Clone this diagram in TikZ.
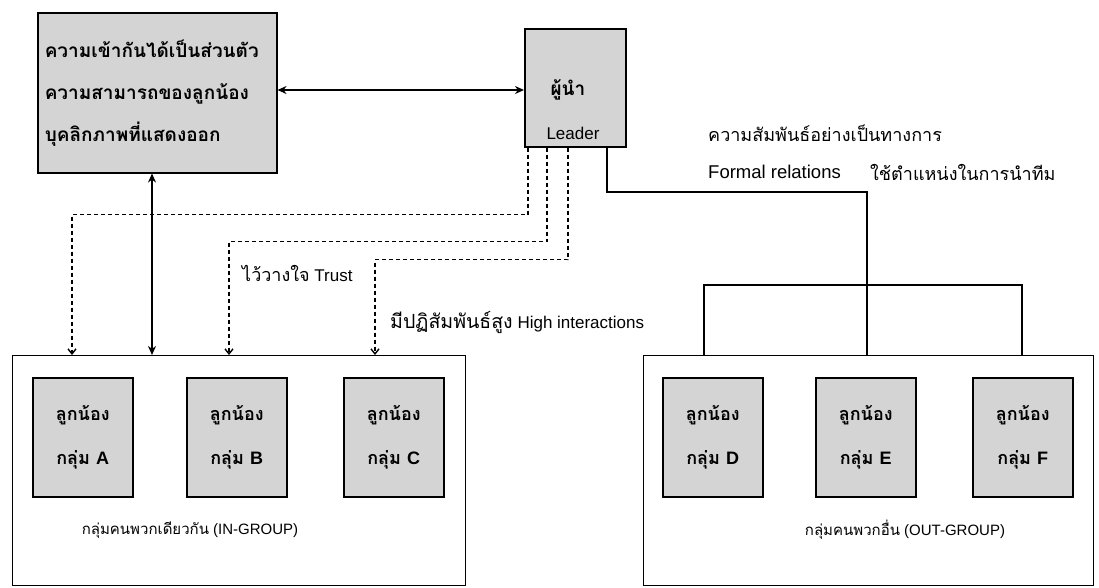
\documentclass[tikz,border=0pt]{standalone}
\usepackage{fontspec}
\setmainfont{Liberation Sans}
\newfontfamily\thai[Script=Thai]{Loma}
\newfontfamily\lat{Liberation Sans}
\usetikzlibrary{arrows.meta}
\begin{document}
\begin{tikzpicture}[x=1pt,y=-1pt,
  box/.style={draw, line width=1.5pt, fill=black!17, inner sep=0pt},
  grp/.style={draw, line width=1.3pt, fill=white, inner sep=0pt},
  sub/.style={box, minimum width=100pt, minimum height=119pt, align=center,
    font=\thai\bfseries\fontsize{18}{44}\selectfont},
  conn/.style={line width=1.6pt},
  dsh/.style={line width=1.4pt, dash pattern=on 4pt off 3pt, -{Straight Barb[length=5pt,width=8pt]}},
  sol/.style={line width=1.8pt, {Stealth[length=9pt,width=8pt]}-{Stealth[length=9pt,width=8pt]}},
  th/.style={font=\thai\fontsize{18}{20}\selectfont, inner sep=0pt},
  lab/.style={font=\fontsize{16}{18}\selectfont, inner sep=0pt}
]
\fill[white] (0,0) rectangle (1099,587);
\useasboundingbox (0,0) rectangle (1099,587);

% top-left box
\node[box, anchor=north west, minimum width=239pt, minimum height=160pt, text width=225pt, align=left,
  font=\thai\bfseries\fontsize{19}{42}\selectfont] (tl) at (37,12)
  {ความเข้ากันได้เป็นส่วนตัว\\ความสามารถของลูกน้อง\\บุคลิกภาพที่แสดงออก};

% leader
\node[box, anchor=north west, minimum width=101pt, minimum height=118pt] (leader) at (524,28) {};
\node[font=\thai\bfseries\fontsize{19}{20}\selectfont, inner sep=0pt] (ln) at (568,90) {ผู้นำ};
\node[lab, font=\fontsize{17}{18}\selectfont] (le) at (573,133) {Leader};

% groups
\node[grp, anchor=north west, minimum width=453pt, minimum height=230pt] (ing) at (12,355) {};
\node[grp, anchor=north west, minimum width=450pt, minimum height=230pt] (outg) at (643,355) {};

\node[sub, anchor=north west] (a) at (32,377) {ลูกน้อง\\กลุ่ม {\lat A}};
\node[sub, anchor=north west] (b) at (186,377) {ลูกน้อง\\กลุ่ม {\lat B}};
\node[sub, anchor=north west] (c) at (343,377) {ลูกน้อง\\กลุ่ม {\lat C}};
\node[sub, anchor=north west] (d) at (662,377) {ลูกน้อง\\กลุ่ม {\lat D}};
\node[sub, anchor=north west] (e) at (815,377) {ลูกน้อง\\กลุ่ม {\lat E}};
\node[sub, anchor=north west] (f) at (972,377) {ลูกน้อง\\กลุ่ม {\lat F}};

\node[lab, font=\fontsize{15}{18}\selectfont] (l6) at (190,530) {{\thai กลุ่มคนพวกเดียวกัน} (IN-GROUP)};
\node[lab, font=\fontsize{15}{18}\selectfont] (l7) at (905,530) {{\thai กลุ่มคนพวกอื่น} (OUT-GROUP)};

% labels
\node[th, anchor=west] (l1) at (708,133) {ความสัมพันธ์อย่างเป็นทางการ};
\node[lab, anchor=west, font=\fontsize{18.5}{20}\selectfont] (l2) at (708,172) {Formal relations};
\node[th, anchor=west] (l3) at (870,172) {ใช้ตำแหน่งในการนำทีม};
\node[lab, anchor=west, font=\fontsize{17}{20}\selectfont] (l4) at (242,273) {{\thai\fontsize{18}{20}\selectfont ไว้วางใจ} Trust};
\node[lab, anchor=west, font=\fontsize{17}{20}\selectfont] (l5) at (390,322) {{\thai\fontsize{19.5}{20}\selectfont มีปฏิสัมพันธ์สูง} High interactions};

% connectors
\draw[sol] (tl.east |- 0,90) -- (leader.west |- 0,90);
\coordinate (v) at (152,0);
\draw[sol] (tl.south -| v) -- (ing.north -| v);

\draw[dsh] ([xshift=4pt]leader.south west) -- ++(0,67) -| ([xshift=60pt]ing.north west);
\draw[dsh] ([xshift=23pt]leader.south west) -- ++(0,94) -| ([xshift=217pt]ing.north west);
\draw[dsh] ([xshift=44pt]leader.south west) -- ++(0,112) -| ([xshift=363pt]ing.north west);

\coordinate (hub) at (867,285);
\draw[conn] ([xshift=83pt]leader.south west) |- (hub |- 0,192) -- (hub);
\draw[conn] ([xshift=61pt]outg.north west) |- (hub) -| ([xshift=379pt]outg.north west);
\draw[conn] (hub) -- (outg.north -| hub);
\end{tikzpicture}
\end{document}
